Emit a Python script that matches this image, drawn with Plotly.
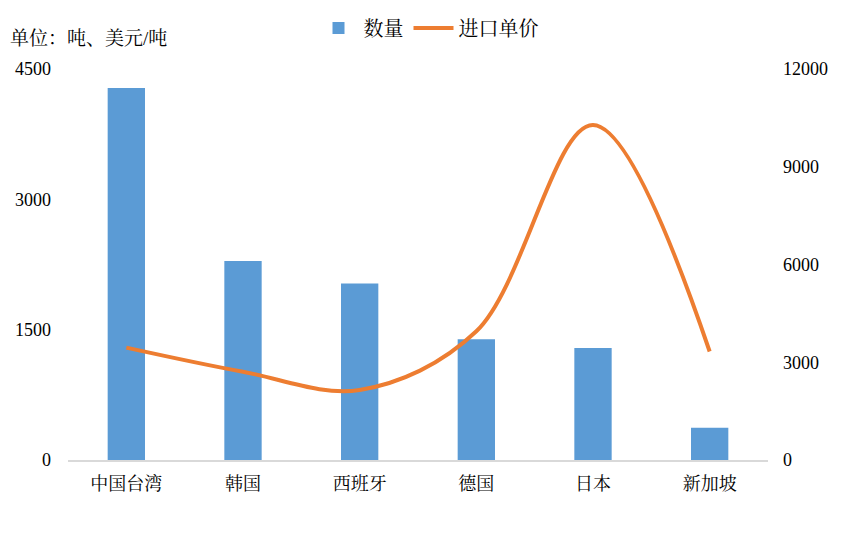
import plotly.graph_objects as go

categories = ["中国台湾", "韩国", "西班牙", "德国", "日本", "新加坡"]
quantity = [4280, 2290, 2030, 1390, 1290, 370]
unit_price = [3450, 2710, 2150, 3950, 10280, 3330]
left_ticks = [0, 1500, 3000, 4500]
right_ticks = [0, 3000, 6000, 9000, 12000]

BLUE = "#5B9BD5"
ORANGE = "#ED7D31"
FONT = "'Liberation Serif', 'Times New Roman', 'Noto Serif CJK SC', 'Noto Sans CJK SC', serif"

fig = go.Figure()
fig.add_trace(go.Bar(x=categories, y=quantity, name="数量", marker_color=BLUE,
                     marker_line_width=0, yaxis="y"))
fig.add_trace(go.Scatter(x=categories, y=unit_price, name="进口单价", mode="lines",
                         line=dict(color=ORANGE, width=4, shape="spline", smoothing=1),
                         yaxis="y2"))

fig.update_layout(
    width=845, height=552,
    margin=dict(l=60, r=85, t=61, b=100, autoexpand=False),
    paper_bgcolor="white", plot_bgcolor="white",
    font=dict(family=FONT, size=18, color="#000000"),
    bargap=0.68,
    showlegend=True,
    legend=dict(orientation="h", x=0.515, xanchor="center", y=1.105, yanchor="middle",
                font=dict(size=20, family=FONT), itemwidth=40, traceorder="normal"),
    xaxis=dict(showgrid=False, showline=True, linecolor="#D9D9D9", linewidth=1.5,
               ticks="", tickfont=dict(size=18, family=FONT), automargin=False,
               ticklabelstandoff=7),
    yaxis=dict(range=[0, 4500], tickvals=left_ticks, ticktext=[str(v) for v in left_ticks],
               showgrid=False, zeroline=False, automargin=False,
               showline=False, ticks="", tickfont=dict(size=18, family=FONT),
               ticklabelstandoff=16),
    yaxis2=dict(range=[0, 12000], tickvals=right_ticks, ticktext=[str(v) for v in right_ticks],
                overlaying="y", side="right", automargin=False,
                showgrid=False, zeroline=False, showline=False, ticks="",
                tickfont=dict(size=18, family=FONT), ticklabelstandoff=14),
    annotations=[dict(text="单位：吨、美元/吨", xref="paper", yref="paper",
                      x=-0.086, y=1.079, xanchor="left", yanchor="middle",
                      showarrow=False, font=dict(size=19, family=FONT))],
)

fig.write_html("out.html")
